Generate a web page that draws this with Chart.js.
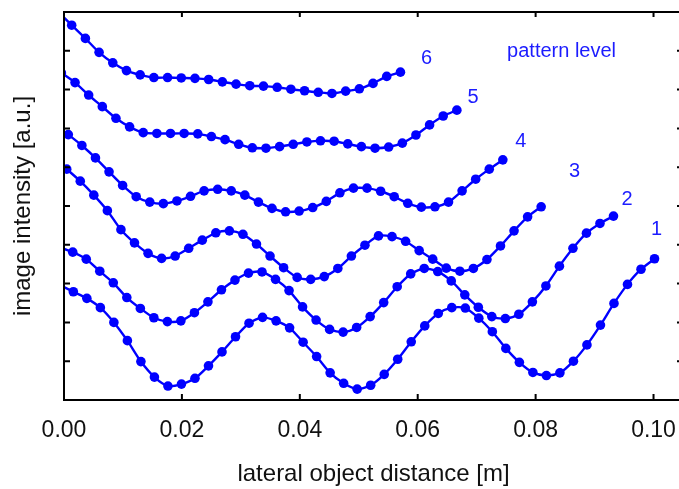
<!DOCTYPE html>
<html>
<head>
<meta charset="utf-8">
<script src="https://cdn.jsdelivr.net/npm/chart.js@4.4.1/dist/chart.umd.min.js"></script>
<style>
  html, body { margin: 0; padding: 0; background: #fff; overflow: hidden; }
  /* plot frame runs a little past the right edge of the window, as in the picture */
  .wrap { position: relative; width: 700px; height: 489px; }
</style>
</head>
<body>
<div class="wrap"><canvas id="chart"></canvas></div>
<script>
// axis ticks
const xTicks = [0, 0.02, 0.04, 0.06, 0.08, 0.1]
const yTicks = [1, 2, 3, 4, 5, 6, 7, 8, 9]

// pattern levels, bottom curve first
const levels = ['1', '2', '3', '4', '5', '6']

// first / last sample position of every curve [m] (samples are evenly spaced)
const xFirst = [-0.00071, -0.00081, 0.00046, 0.00073, -0.00044, -0.00102]
const xLast = [0.10017, 0.09321, 0.08094, 0.07444, 0.06664, 0.05707]

// image intensity [a.u.]
const level1 = [2.96, 2.79, 2.62, 2.38, 2.00, 1.53, 0.99, 0.59, 0.36, 0.41, 0.56, 0.88, 1.24, 1.63, 1.98, 2.13, 2.04, 1.86, 1.49, 1.12, 0.70, 0.43, 0.28, 0.38, 0.66, 1.05, 1.50, 1.91, 2.23, 2.38, 2.37, 2.11, 1.76, 1.33, 0.97, 0.71, 0.63, 0.70, 1.00, 1.42, 1.93, 2.49, 2.98, 3.37, 3.64]
const level2 = [3.94, 3.81, 3.63, 3.32, 3.02, 2.64, 2.36, 2.12, 2.02, 2.04, 2.25, 2.53, 2.84, 3.09, 3.27, 3.30, 3.11, 2.82, 2.40, 2.06, 1.82, 1.75, 1.87, 2.15, 2.51, 2.92, 3.25, 3.39, 3.31, 3.07, 2.71, 2.39, 2.15, 2.10, 2.21, 2.53, 2.94, 3.45, 3.91, 4.30, 4.55, 4.74]
const level3 = [5.95, 5.64, 5.28, 4.88, 4.39, 4.05, 3.78, 3.65, 3.71, 3.91, 4.12, 4.31, 4.36, 4.27, 4.02, 3.71, 3.41, 3.16, 3.11, 3.18, 3.39, 3.71, 3.99, 4.23, 4.21, 4.09, 3.85, 3.63, 3.40, 3.32, 3.39, 3.62, 3.97, 4.36, 4.72, 4.98]
const level4 = [6.84, 6.56, 6.24, 5.88, 5.53, 5.24, 5.10, 5.06, 5.13, 5.25, 5.39, 5.43, 5.39, 5.28, 5.10, 4.94, 4.85, 4.87, 4.96, 5.12, 5.34, 5.46, 5.46, 5.38, 5.24, 5.07, 4.97, 4.98, 5.10, 5.39, 5.69, 5.95, 6.19]
const level5 = [8.43, 8.18, 7.86, 7.56, 7.26, 7.04, 6.89, 6.87, 6.87, 6.87, 6.86, 6.79, 6.71, 6.59, 6.50, 6.49, 6.53, 6.59, 6.65, 6.68, 6.67, 6.60, 6.53, 6.49, 6.52, 6.62, 6.83, 7.09, 7.32, 7.47]
const level6 = [10.01, 9.66, 9.32, 8.96, 8.69, 8.49, 8.38, 8.31, 8.31, 8.30, 8.29, 8.26, 8.20, 8.14, 8.10, 8.09, 8.06, 8.01, 7.97, 7.93, 7.90, 7.96, 8.02, 8.16, 8.34, 8.45]

// where the level numbers sit (data coords)
const labelX = [0.1005, 0.0955, 0.0866, 0.0775, 0.0694, 0.0615]
const labelY = [4.40, 5.18, 5.88, 6.66, 7.79, 8.81]
const headerX = 0.0844
const headerY = 8.98

const series = [level1, level2, level3, level4, level5, level6]
const blue = '#0000ff'
const font = '"Liberation Sans", Arial, sans-serif'

// frame + inward ticks + text labels
const framePlugin = {
  id: 'frame',
  afterDraw(chart) {
    const ctx = chart.ctx
    const a = chart.chartArea
    const xs = chart.scales.x
    const ys = chart.scales.y
    ctx.save()
    ctx.strokeStyle = '#000'
    ctx.lineWidth = 2
    ctx.strokeRect(a.left, a.top, a.right - a.left, a.bottom - a.top)
    ctx.beginPath()
    xTicks.forEach(function (v) {
      const px = xs.getPixelForValue(v)
      ctx.moveTo(px, a.bottom)
      ctx.lineTo(px, a.bottom - 6)
      ctx.moveTo(px, a.top)
      ctx.lineTo(px, a.top + 5)
    })
    yTicks.forEach(function (v) {
      const py = ys.getPixelForValue(v)
      ctx.moveTo(a.left, py)
      ctx.lineTo(a.left + 6, py)
      ctx.moveTo(a.right, py)
      ctx.lineTo(a.right - 6, py)
    })
    ctx.stroke()

    ctx.fillStyle = '#1c1cff'
    ctx.font = '20px ' + font
    ctx.textAlign = 'center'
    ctx.textBaseline = 'middle'
    levels.forEach(function (t, k) {
      ctx.fillText(t, xs.getPixelForValue(labelX[k]), ys.getPixelForValue(labelY[k]))
    })
    ctx.fillText('pattern level', xs.getPixelForValue(headerX), ys.getPixelForValue(headerY))
    ctx.restore()
  },
}

const chart = new Chart(document.getElementById('chart'), {
  type: 'line',
  data: {
    datasets: series.map(function (vals, k) {
      const step = (xLast[k] - xFirst[k]) / (vals.length - 1)
      return {
        label: levels[k],
        data: vals.map(function (v, i) {
          return { x: xFirst[k] + i * step, y: v }
        }),
        borderColor: blue,
        backgroundColor: blue,
        borderWidth: 2.4,
        pointRadius: 4.8,
        pointBorderWidth: 0,
        pointBackgroundColor: blue,
        tension: 0.25,
      }
    }),
  },
  options: {
    responsive: true,
    maintainAspectRatio: false,
    animation: false,
    devicePixelRatio: 1,
    layout: { padding: { top: 12, right: 17, left: 0, bottom: 0 } },
    plugins: {
      legend: { display: false },
      tooltip: { enabled: false },
    },
    scales: {
      x: {
        type: 'linear',
        min: 0,
        max: 0.105,
        grid: { display: false, drawTicks: false },
        border: { display: false },
        afterBuildTicks: function (s) {
          s.ticks = xTicks.map(function (v) { return { value: v } })
        },
        afterFit: function (s) { s.height = 89 },
        ticks: {
          padding: 17,
          color: '#111',
          font: { family: font, size: 23 },
          maxRotation: 0,
          callback: function (v) { return v.toFixed(2) },
        },
        title: {
          display: true,
          text: 'lateral object distance [m]',
          color: '#111',
          font: { family: font, size: 24 },
          padding: { top: 0, bottom: 0 },
        },
      },
      y: {
        min: 0,
        max: 10,
        grid: { display: false, drawTicks: false },
        border: { display: false },
        ticks: { display: false },
        afterFit: function (s) { s.width = 64 },
        title: {
          display: true,
          text: 'image intensity [a.u.]',
          color: '#111',
          font: { family: font, size: 24 },
          padding: { top: 9, bottom: 0 },
        },
      },
    },
  },
  plugins: [framePlugin],
})
</script>
</body>
</html>
